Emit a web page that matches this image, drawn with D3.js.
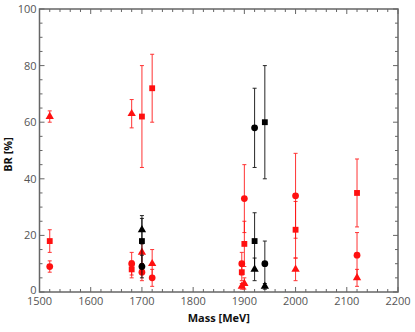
<!DOCTYPE html>
<html>
<head>
<meta charset="utf-8">
<script src="https://cdn.jsdelivr.net/npm/d3@7"></script>
<style>
body { margin: 0; background: #fff; }
#chart { width: 415px; height: 332px; }
text { font-family: "Open Sans", sans-serif; }
</style>
</head>
<body>
<div id="chart"></div>
<script>
// Data (mass in MeV, BR in %, symmetric error)
var redCircleMass = [1520, 1680, 1700, 1720, 1895, 1900, 2000, 2120];
var redCircleBR   = [9, 10, 7, 5, 10, 33, 34, 13];
var redCircleErr  = [2, 4, 3, 3, 4, 12, 15, 8];

var redSquareMass = [1520, 1680, 1700, 1720, 1895, 1900, 2000, 2120];
var redSquareBR   = [18, 8, 62, 72, 7, 17, 22, 35];
var redSquareErr  = [4, 3, 18, 12, 3, 8, 10, 12];

var redTriMass = [1520, 1680, 1700, 1720, 1895, 1900, 2000, 2120];
var redTriBR   = [62, 63, 14, 10, 2, 3, 8, 5];
var redTriErr  = [2, 5, 4, 5, 1, 2, 4, 3];

var blackCircleMass = [1700, 1920, 1940];
var blackCircleBR   = [9, 58, 10];
var blackCircleErr  = [4, 14, 8];

var blackSquareMass = [1700, 1920, 1940];
var blackSquareBR   = [18, 18, 60];
var blackSquareErr  = [8, 10, 20];

var blackTriMass = [1700, 1920, 1940];
var blackTriBR   = [22, 8, 2];
var blackTriErr  = [5, 4, 1];

var xTicks = [1500, 1600, 1700, 1800, 1900, 2000, 2100, 2200];
var yTicks = [0, 20, 40, 60, 80, 100];

var width = 415, height = 332;
var margin = {left: 39.5, right: 17, top: 9, bottom: 40};

var svg = d3.select("#chart").append("svg")
    .attr("width", width)
    .attr("height", height);

var x = d3.scaleLinear().domain([1500, 2200]).range([margin.left, width - margin.right]);
var y = d3.scaleLinear().domain([0, 100]).range([height - margin.bottom, margin.top]);

var axisColor = "#666";
var labelColor = "#555";

// ticks, inward on all four sides
var xMinor = d3.range(1500, 2201, 20);
var yMinor = d3.range(0, 101, 5);

function tickLen(isMajor) { return isMajor ? 5 : 3; }

var tickG = svg.append("g").attr("stroke", axisColor).attr("stroke-width", 1);

xMinor.forEach(function (v) {
    var len = tickLen(v % 100 === 0);
    tickG.append("line").attr("x1", x(v)).attr("x2", x(v)).attr("y1", y(0)).attr("y2", y(0) - len);
    tickG.append("line").attr("x1", x(v)).attr("x2", x(v)).attr("y1", y(100)).attr("y2", y(100) + len);
});
yMinor.forEach(function (v) {
    var len = tickLen(v % 20 === 0);
    tickG.append("line").attr("x1", x(1500)).attr("x2", x(1500) + len).attr("y1", y(v)).attr("y2", y(v));
    tickG.append("line").attr("x1", x(2200)).attr("x2", x(2200) - len).attr("y1", y(v)).attr("y2", y(v));
});

// frame
svg.append("rect")
    .attr("x", x(1500)).attr("y", y(100))
    .attr("width", x(2200) - x(1500))
    .attr("height", y(0) - y(100))
    .attr("fill", "none")
    .attr("stroke", axisColor)
    .attr("stroke-width", 1.5);

// tick labels
svg.selectAll(".xLabel").data(xTicks).enter()
    .append("text")
    .attr("class", "xLabel")
    .attr("x", d => x(d))
    .attr("y", y(0) + 13)
    .attr("text-anchor", "middle")
    .attr("font-size", 11)
    .attr("fill", labelColor)
    .text(d => d);

svg.selectAll(".yLabel").data(yTicks).enter()
    .append("text")
    .attr("class", "yLabel")
    .attr("x", x(1500) - 3)
    .attr("y", d => y(d) + (d === 0 ? 2 : 4))
    .attr("text-anchor", "end")
    .attr("font-size", 11)
    .attr("fill", labelColor)
    .text(d => d);

// axis titles
svg.append("text")
    .attr("x", (x(1500) + x(2200)) / 2)
    .attr("y", 322)
    .attr("text-anchor", "middle")
    .attr("font-size", 11)
    .attr("font-weight", "bold")
    .attr("fill", "#111")
    .text("Mass [MeV]");

svg.append("text")
    .attr("transform", "translate(12," + (y(50) + 4) + ") rotate(-90)")
    .attr("text-anchor", "middle")
    .attr("font-size", 11)
    .attr("font-weight", "bold")
    .attr("fill", "#111")
    .text("BR [%]");

// series
var series = [
    {mass: redCircleMass, br: redCircleBR, err: redCircleErr, color: "#ff1010", shape: "circle"},
    {mass: redSquareMass, br: redSquareBR, err: redSquareErr, color: "#ff1010", shape: "square"},
    {mass: redTriMass, br: redTriBR, err: redTriErr, color: "#ff1010", shape: "triangle"},
    {mass: blackCircleMass, br: blackCircleBR, err: blackCircleErr, color: "#000", shape: "circle"},
    {mass: blackSquareMass, br: blackSquareBR, err: blackSquareErr, color: "#000", shape: "square"},
    {mass: blackTriMass, br: blackTriBR, err: blackTriErr, color: "#000", shape: "triangle"}
];

var symbols = {
    circle: d3.symbol().type(d3.symbolCircle).size(36),
    square: d3.symbol().type(d3.symbolSquare).size(34),
    triangle: d3.symbol().type(d3.symbolTriangle).size(30)
};

var plotG = svg.append("g");
var capW = 2;

series.forEach(function (s) {
    var pts = s.mass.map(function (m, i) {
        return {mass: m, br: s.br[i], err: s.err[i]};
    });
    var g = plotG.append("g");

    var errG = g.selectAll(".err").data(pts).enter().append("g")
        .attr("stroke", s.color)
        .attr("stroke-width", 1)
        .attr("opacity", 0.85);

    errG.append("line")
        .attr("x1", d => x(d.mass)).attr("x2", d => x(d.mass))
        .attr("y1", d => y(d.br + d.err)).attr("y2", d => y(Math.max(0, d.br - d.err)));
    errG.append("line")
        .attr("x1", d => x(d.mass) - capW).attr("x2", d => x(d.mass) + capW)
        .attr("y1", d => y(d.br + d.err)).attr("y2", d => y(d.br + d.err));
    errG.append("line")
        .attr("x1", d => x(d.mass) - capW).attr("x2", d => x(d.mass) + capW)
        .attr("y1", d => y(Math.max(0, d.br - d.err))).attr("y2", d => y(Math.max(0, d.br - d.err)));

    g.selectAll(".pt").data(pts).enter().append("path")
        .attr("d", symbols[s.shape])
        .attr("transform", d => "translate(" + x(d.mass) + "," + y(d.br) + ")")
        .attr("fill", s.color);
});
</script>
</body>
</html>
